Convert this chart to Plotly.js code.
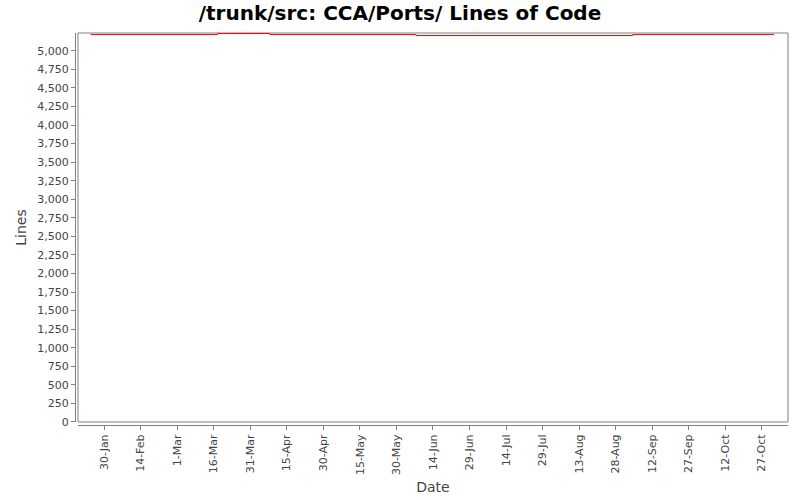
<!DOCTYPE html>
<html>
<head>
<meta charset="utf-8">
<script src="https://cdn.plot.ly/plotly-3.0.1.min.js"></script>
<style>
  body { margin: 0; background: #fff; }
  #chart { width: 800px; height: 500px; }
</style>
</head>
<body>
<div id="chart"></div>
<script>
// lines of code over time (step line)
const dates = ['2005-01-24 12:00', '2005-03-17 12:00', '2005-04-08', '2005-06-07', '2005-09-04', '2005-11-01'];
const lines = [5219, 5233, 5219, 5206, 5219, 5219];

const tickDates = ['2005-01-30', '2005-02-14', '2005-03-01', '2005-03-16', '2005-03-31', '2005-04-15',
  '2005-04-30', '2005-05-15', '2005-05-30', '2005-06-14', '2005-06-29', '2005-07-14',
  '2005-07-29', '2005-08-13', '2005-08-28', '2005-09-12', '2005-09-27', '2005-10-12', '2005-10-27'];
const tickLabels = ['30-Jan', '14-Feb', '1-Mar', '16-Mar', '31-Mar', '15-Apr', '30-Apr', '15-May',
  '30-May', '14-Jun', '29-Jun', '14-Jul', '29-Jul', '13-Aug', '28-Aug', '12-Sep', '27-Sep',
  '12-Oct', '27-Oct'];

const yTicks = [];
for (let v = 0; v <= 5000; v += 250) yTicks.push(v);

const font = 'DejaVu Sans, sans-serif';

const trace = {
  x: dates,
  y: lines,
  type: 'scatter',
  mode: 'lines',
  line: {color: '#ff0000', width: 1, shape: 'hv'},
  hoverinfo: 'none'
};

const layout = {
  width: 800,
  height: 500,
  margin: {l: 75, r: 12, t: 33, b: 75},
  paper_bgcolor: '#ffffff',
  plot_bgcolor: '#ffffff',
  showlegend: false,
  title: {
    text: '<b>/trunk/src: CCA/Ports/ Lines of Code</b>',
    font: {family: font, size: 20, color: '#000'},
    x: 0.5,
    xanchor: 'center',
    y: 0.975,
    yanchor: 'middle'
  },
  xaxis: {
    type: 'date',
    range: ['2005-01-19 05:00', '2005-11-06 19:00'],
    domain: [0.0042, 1],
    anchor: 'free',
    position: 0,
    tickmode: 'array',
    tickvals: tickDates,
    ticktext: tickLabels,
    tickangle: -90,
    ticks: 'outside',
    ticklen: 4,
    tickcolor: '#808080',
    tickfont: {family: font, size: 11, color: '#444'},
    showline: true,
    linecolor: '#808080',
    linewidth: 1,
    showgrid: false,
    zeroline: false,
    title: {text: 'Date', font: {family: font, size: 14, color: '#444'}, standoff: 8}
  },
  yaxis: {
    range: [0, 5240],
    domain: [0.0077, 1],
    anchor: 'free',
    position: 0,
    tickmode: 'array',
    tickvals: yTicks,
    tickformat: ',d',
    ticks: 'outside',
    ticklen: 4,
    tickcolor: '#808080',
    tickfont: {family: font, size: 11, color: '#444'},
    showline: true,
    linecolor: '#808080',
    linewidth: 1,
    showgrid: false,
    zeroline: false,
    title: {text: 'Lines', font: {family: font, size: 14, color: '#444'}, standoff: 6}
  },
  shapes: [{
    type: 'rect',
    xref: 'x domain', yref: 'y domain',
    x0: 0, x1: 1, y0: 0, y1: 1,
    line: {color: '#808080', width: 1},
    layer: 'below'
  }]
};

Plotly.newPlot('chart', [trace], layout, {staticPlot: true});
</script>
</body>
</html>
